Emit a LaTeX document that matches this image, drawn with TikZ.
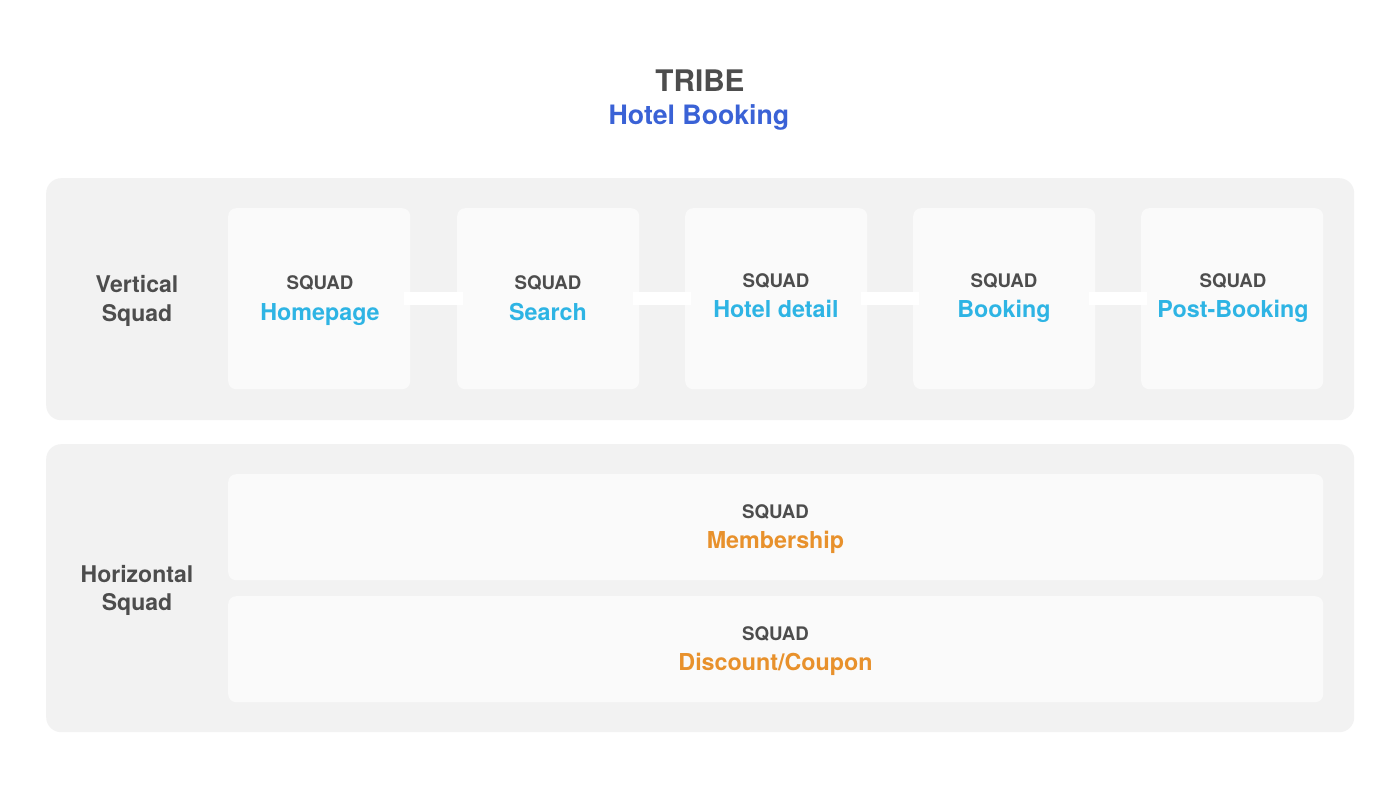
\documentclass[tikz,border=0pt]{standalone}
\usepackage{fontspec}
\setmainfont{TeX Gyre Heros}
\definecolor{panelgray}{HTML}{F2F2F2}
\definecolor{boxgray}{HTML}{FAFAFA}
\definecolor{darktxt}{HTML}{4D4D4D}
\definecolor{cyantxt}{HTML}{2EB4E4}
\definecolor{bluetxt}{HTML}{3A62D6}
\definecolor{orangetxt}{HTML}{E8912C}
\begin{document}
\begin{tikzpicture}[x=1pt,y=-1pt,
  panel/.style={fill=panelgray,draw=none,rounded corners=15pt,inner sep=0pt,anchor=north west},
  vbox/.style={fill=boxgray,draw=none,rounded corners=8pt,inner sep=0pt,anchor=north west,minimum width=182pt,minimum height=181pt},
  hbox/.style={fill=boxgray,draw=none,rounded corners=8pt,inner sep=0pt,anchor=north west,minimum width=1095pt,minimum height=106pt},
  conn/.style={draw=white,line width=13pt,shorten <=-6pt,shorten >=-6pt},
  txt/.style={anchor=base,inner sep=0pt,font=\bfseries\fontsize{23.3}{28}\selectfont},
  sqtxt/.style={anchor=base,inner sep=0pt,text=darktxt,font=\bfseries\fontsize{18.7}{22}\selectfont},
  lbl/.style={txt,text=darktxt,font=\bfseries\fontsize{23}{28}\selectfont},
  vname/.style={txt,text=cyantxt},
  hname/.style={txt,text=orangetxt}]
\useasboundingbox[fill=white] (0,0) rectangle (1400,786);
% title
\node[anchor=base,inner sep=0pt,text=darktxt,font=\bfseries\fontsize{29.7}{34}\selectfont] (tribe) at (700,92) {TRIBE};
\node[anchor=base,inner sep=0pt,text=bluetxt,font=\bfseries\fontsize{26.7}{31}\selectfont] (hotel) at (699,125) {Hotel Booking};
% panels
\node[panel,minimum width=1308pt,minimum height=242pt] (vpanel) at (46,178) {};
\node[panel,minimum width=1308pt,minimum height=288pt] (hpanel) at (46,444) {};
% panel labels
\node[lbl] (vl1) at (137,293) {Vertical};
\node[lbl] (vl2) at (137,321) {Squad};
\node[lbl] (hl1) at (137,582.5) {Horizontal};
\node[lbl] (hl2) at (137,610) {Squad};
% vertical squads
\node[vbox] (v1) at (228,208) {};
\node[vbox] (v2) at (457,208) {};
\node[vbox] (v3) at (685,208) {};
\node[vbox] (v4) at (913,208) {};
\node[vbox] (v5) at (1141,208) {};
\draw[conn] (v1.east) -- (v2.west);
\draw[conn] (v2.east) -- (v3.west);
\draw[conn] (v3.east) -- (v4.west);
\draw[conn] (v4.east) -- (v5.west);
\node[sqtxt] (v1s) at (320,290) {SQUAD};
\node[vname] (v1n) at (320,320) {Homepage};
\node[sqtxt] (v2s) at (548,290) {SQUAD};
\node[vname] (v2n) at (548,320) {Search};
\node[sqtxt] (v3s) at (776,288) {SQUAD};
\node[vname] (v3n) at (776,318) {Hotel detail};
\node[sqtxt] (v4s) at (1004,288) {SQUAD};
\node[vname] (v4n) at (1004,318) {Booking};
\node[sqtxt] (v5s) at (1233,288) {SQUAD};
\node[vname] (v5n) at (1233,318) {Post-Booking};
% horizontal squads
\node[hbox] (h1) at (228,474) {};
\node[hbox] (h2) at (228,596) {};
\node[sqtxt] (h1s) at (775.5,518) {SQUAD};
\node[hname] (h1n) at (775.5,548) {Membership};
\node[sqtxt] (h2s) at (775.5,640) {SQUAD};
\node[hname] (h2n) at (775.5,670) {Discount/Coupon};
\end{tikzpicture}
\end{document}
